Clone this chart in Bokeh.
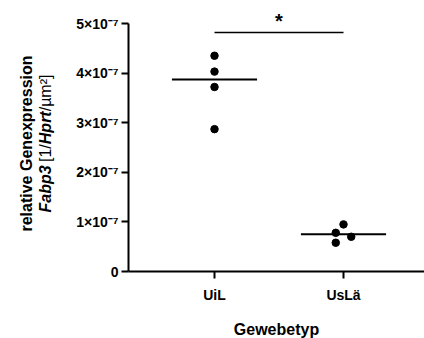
import math
from bokeh.plotting import figure
from bokeh.models import Range1d, FixedTicker, Label, LinearAxis
from bokeh.core.properties import value
from bokeh.embed import file_html
from bokeh.resources import INLINE

# ---- data ----
categories = ["UiL", "UsLä"]
uil_values = [4.35e-7, 4.03e-7, 3.72e-7, 2.87e-7]
uslae_values = [0.95e-7, 0.78e-7, 0.70e-7, 0.58e-7]
uslae_jitter = [0.0, -0.06, 0.06, -0.06]
uil_jitter = [0.0, 0.0, 0.0, 0.0]
center_lines = [3.87e-7, 0.75e-7]   # horizontal line per group
y_tick_values = [0, 1e-7, 2e-7, 3e-7, 4e-7, 5e-7]
y_tick_labels = ["0", "1×10⁻⁷", "2×10⁻⁷", "3×10⁻⁷", "4×10⁻⁷", "5×10⁻⁷"]
x_title = "Gewebetyp"
y_title_line1 = "relative Genexpression"
y_title_line2 = [("Fabp3", "bold italic"), ("[1/", "normal"),
                 ("Hprt", "bold italic"), ("/µm²]", "normal")]
significance = "*"

FONT = "Liberation Sans"

# ---- layout (pixel geometry of the canvas) ----
W, H = 424, 338
PX_X = 129.0          # pixels per category step
X_UIL_PX = 214.0      # pixel column of first category
Y0_PX = 271.0         # pixel row of y = 0
PX_Y = 49.6e7         # pixels per unit of y
AXIS_LEFT_PX = 128.0

def xd(px):
    return 1 + (px - X_UIL_PX) / PX_X

def yd(py):
    return (Y0_PX - py) / PX_Y

p = figure(width=W, height=H, output_backend="svg", toolbar_location=None,
           x_range=Range1d(xd(0), xd(W)), y_range=Range1d(yd(H), yd(0)),
           x_axis_location=None, y_axis_location=None,
           min_border_left=0, min_border_right=0, min_border_top=0,
           min_border_bottom=0)
p.outline_line_color = None
p.grid.visible = False

# axes, fixed at the data positions
xa = LinearAxis(fixed_location=0.0, bounds=(xd(AXIS_LEFT_PX), xd(W)))
xa.ticker = FixedTicker(ticks=[1, 2])
xa.major_label_overrides = {1: categories[0], 2: categories[1]}
xa.minor_tick_line_color = None
xa.major_tick_out = 7
xa.major_tick_in = 0
xa.major_tick_line_width = 2
xa.axis_line_width = 2
xa.major_label_text_font = FONT
xa.major_label_text_font_style = "bold"
xa.major_label_text_font_size = "14px"
xa.major_label_text_color = "black"
xa.major_label_standoff = 8
xa.axis_label = x_title
xa.axis_label_text_font = FONT
xa.axis_label_text_font_style = "bold"
xa.axis_label_text_font_size = "16px"
xa.axis_label_text_color = "black"
xa.axis_label_standoff = 15
p.add_layout(xa, "below")

ya = LinearAxis(fixed_location=xd(AXIS_LEFT_PX), bounds=(0, 5e-7))
ya.ticker = FixedTicker(ticks=y_tick_values)
ya.major_label_overrides = {v: s for v, s in zip(y_tick_values, y_tick_labels)}
ya.minor_tick_line_color = None
ya.major_tick_out = 7
ya.major_tick_in = 0
ya.major_tick_line_width = 2
ya.axis_line_width = 2
ya.major_label_text_font = FONT
ya.major_label_text_font_style = "bold"
ya.major_label_text_font_size = "14px"
ya.major_label_text_color = "black"
ya.major_label_standoff = 3
p.add_layout(ya, "left")

# points
p.scatter([1 + j for j in uil_jitter], uil_values, size=7.5, color="black")
p.scatter([2 + j for j in uslae_jitter], uslae_values, size=7.5, color="black")

# center lines
hw = 0.33
p.segment(x0=[1 - hw, 2 - hw], y0=center_lines, x1=[1 + hw, 2 + hw], y1=center_lines,
          line_color="black", line_width=2)

# significance bar
sig_y = yd(32)
p.segment(x0=[1], y0=[sig_y], x1=[2], y1=[sig_y], line_color="black", line_width=1.5)
p.text(x=[1.5], y=[yd(20)], text=[significance], text_font=value(FONT),
       text_font_style="bold", text_font_size="20px", text_align="center",
       text_baseline="middle", text_color="black")

# y-axis title (two lines, mixed styles), rotated
p.add_layout(Label(x=xd(26), y=yd(143), text=y_title_line1, angle=math.pi / 2,
                   text_font=FONT, text_font_style="bold", text_font_size="16px",
                   text_align="center", text_baseline="alphabetic", text_color="black"))
piece_advance = [50.5, 17.8, 32.9, 36.8]   # approximate advance of each piece (px)
start = 143 + sum(piece_advance) / 2
for (txt, style), w in zip(y_title_line2, piece_advance):
    p.add_layout(Label(x=xd(45), y=yd(start), text=txt, angle=math.pi / 2,
                       text_font=FONT, text_font_style=style, text_font_size="16px",
                       text_align="left", text_baseline="alphabetic", text_color="black"))
    start -= w

open("out.html", "w").write(file_html(p, INLINE))
